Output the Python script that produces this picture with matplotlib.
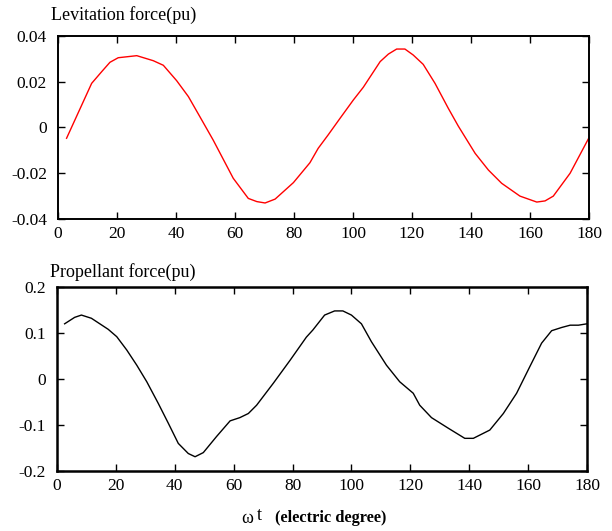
import matplotlib
matplotlib.use("Agg")
import matplotlib.pyplot as plt
import numpy as np

plt.rcParams['font.family'] = ['Liberation Serif', 'DejaVu Serif']

# levitation force (pu) vs electric degree
lev_x = [2.9, 11.4, 14.8, 17.6, 20.4, 26.7, 32.3, 35.7, 40.2, 44.2, 48.1, 52.6,
         59.4, 64.5, 67.4, 70.2, 73.6, 79.8, 85.4, 88.2, 91.6, 95.6, 100.1, 103.5,
         109.2, 112.0, 114.8, 117.6, 120.4, 123.8, 127.8, 132.3, 135.7, 141.4,
         145.9, 150.4, 156.6, 162.3, 165.1, 167.9, 173.6, 179.9]
lev_y = [-0.0047, 0.0193, 0.0244, 0.0285, 0.0305, 0.0314, 0.0292, 0.0272, 0.0205,
         0.0135, 0.0047, -0.0055, -0.0222, -0.0310, -0.0324, -0.0330, -0.0313,
         -0.0241, -0.0154, -0.0091, -0.0032, 0.0040, 0.0120, 0.0176, 0.0288,
         0.0321, 0.0343, 0.0343, 0.0317, 0.0276, 0.0193, 0.0084, 0.0006, -0.0113,
         -0.0186, -0.0244, -0.0300, -0.0326, -0.0321, -0.0300, -0.0200, -0.0047]

# propellant force (pu) vs electric degree
pro_x = [2.6, 6.0, 8.3, 11.7, 17.4, 20.3, 23.7, 27.1, 30.5, 34.4, 37.8, 41.2,
         44.6, 46.9, 49.7, 54.2, 58.8, 62.1, 65.0, 67.8, 73.5, 79.2, 84.7, 86.9,
         90.9, 94.3, 97.1, 100.0, 103.4, 106.8, 111.9, 116.4, 121.0, 123.2,
         127.2, 132.9, 138.5, 141.4, 147.0, 151.6, 156.1, 160.6, 164.6, 168.0,
         171.4, 174.3, 177.1, 180.0]
pro_y = [0.120, 0.134, 0.139, 0.132, 0.108, 0.092, 0.063, 0.030, -0.006, -0.053,
         -0.096, -0.140, -0.162, -0.169, -0.160, -0.125, -0.091, -0.084, -0.075,
         -0.057, -0.009, 0.041, 0.091, 0.1065, 0.139, 0.148, 0.148, 0.139, 0.120,
         0.081, 0.030, -0.006, -0.031, -0.057, -0.084, -0.107, -0.129, -0.129,
         -0.111, -0.075, -0.031, 0.027, 0.078, 0.105, 0.112, 0.117, 0.117, 0.120]

x_ticks = [0, 20, 40, 60, 80, 100, 120, 140, 160, 180]
lev_ticks = [0.04, 0.02, 0, -0.02, -0.04]
lev_labels = ["0.04", "0.02", "0", "-0.02", "-0.04"]
pro_ticks = [0.2, 0.1, 0, -0.1, -0.2]
pro_labels = ["0.2", "0.1", "0", "-0.1", "-0.2"]

fig = plt.figure(figsize=(6.12, 5.31), dpi=100)
ax1 = fig.add_axes([0.0948, 0.5876, 0.8676, 0.3446])
ax2 = fig.add_axes([0.0931, 0.1130, 0.8660, 0.3465])


def style(ax, yticks, ylabels, ylim, lw):
    ax.set_xlim(0, 180)
    ax.set_ylim(*ylim)
    ax.set_xticks(x_ticks)
    ax.set_xticklabels([str(t) for t in x_ticks])
    ax.set_yticks(yticks)
    ax.set_yticklabels(ylabels)
    ax.tick_params(direction='in', top=True, right=True, length=5, width=1,
                   labelsize=12.5)
    ax.tick_params(axis='y', pad=8)
    ax.tick_params(axis='x', pad=5)
    for s in ax.spines.values():
        s.set_linewidth(lw)


ax1.plot(lev_x, lev_y, color='red', linewidth=1)
style(ax1, lev_ticks, lev_labels, (-0.04, 0.04), 1.4)

ax2.plot(pro_x, pro_y, color='black', linewidth=1)
style(ax2, pro_ticks, pro_labels, (-0.2, 0.2), 1.8)

fig.text(0.084, 0.972, "Levitation force(pu)", fontsize=13, va='center', ha='left')
fig.text(0.082, 0.487, "Propellant force(pu)", fontsize=13, va='center', ha='left')

fig.text(0.395, 0.024, "ω", fontsize=13, va='center', ha='left')
fig.text(0.419, 0.030, "t", fontsize=13, va='center', ha='left')
fig.text(0.449, 0.024, "(electric degree)", fontsize=11.8, fontweight='bold',
         va='center', ha='left')

fig.savefig("out.png", dpi=100)
